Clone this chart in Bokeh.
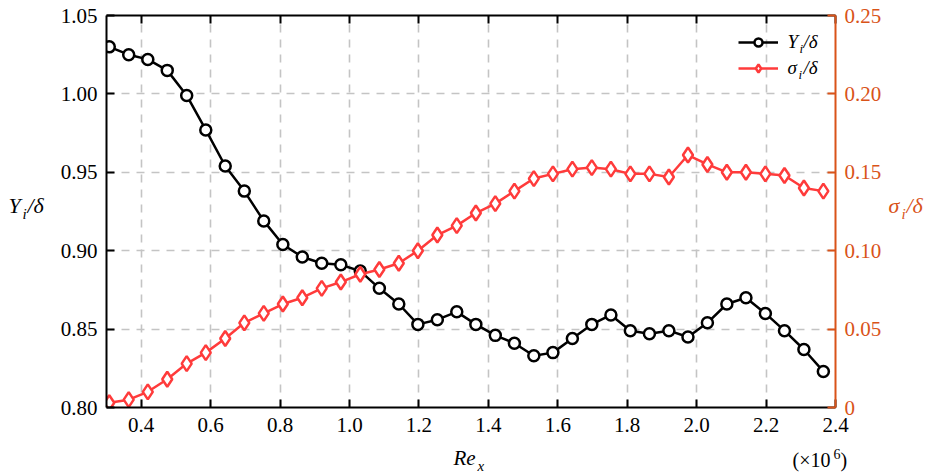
from bokeh.plotting import figure
from bokeh.layouts import column
from bokeh.models import (Range1d, LinearAxis, FixedTicker, CustomJSTickFormatter,
                          Label, Legend, LegendItem, Grid)
from bokeh.core.properties import value
from bokeh.embed import file_html
from bokeh.resources import INLINE

# ---------------- data ----------------
re_x = [0.308, 0.364, 0.419, 0.475, 0.531, 0.586, 0.642, 0.697, 0.753, 0.808,
        0.864, 0.920, 0.975, 1.031, 1.086, 1.142, 1.197, 1.253, 1.309, 1.364,
        1.420, 1.475, 1.531, 1.586, 1.642, 1.698, 1.753, 1.809, 1.864, 1.920,
        1.975, 2.031, 2.087, 2.142, 2.198, 2.253, 2.309, 2.365]
y_over_delta = [1.030, 1.025, 1.022, 1.015, 0.999, 0.977, 0.954, 0.938, 0.919, 0.904,
                0.896, 0.892, 0.891, 0.887, 0.876, 0.866, 0.853, 0.856, 0.861, 0.853,
                0.846, 0.841, 0.833, 0.835, 0.844, 0.853, 0.859, 0.849, 0.847, 0.849,
                0.845, 0.854, 0.866, 0.870, 0.860, 0.849, 0.837, 0.823]
sigma_over_delta = [0.003, 0.005, 0.010, 0.018, 0.028, 0.035, 0.044, 0.054, 0.060, 0.066,
                    0.070, 0.076, 0.080, 0.085, 0.088, 0.092, 0.100, 0.110, 0.116, 0.124,
                    0.130, 0.138, 0.146, 0.149, 0.152, 0.153, 0.152, 0.149, 0.149, 0.147,
                    0.161, 0.155, 0.150, 0.150, 0.149, 0.148, 0.140, 0.138]
x_ticks = [0.4, 0.6, 0.8, 1.0, 1.2, 1.4, 1.6, 1.8, 2.0, 2.2, 2.4]
y_ticks = [0.80, 0.85, 0.90, 0.95, 1.00, 1.05]
sigma_ticks = [0.0, 0.05, 0.10, 0.15, 0.20, 0.25]

# ---------------- layout ----------------
FONT = "Liberation Serif"
ORANGE = "#D95319"
RED = "#ff3b3b"
W, H = 936, 474
L, T, FW, FH = 106, 15, 729, 392
H_MAIN = 446          # main figure height; the strip below holds the x-axis title
XR = (0.3, 2.4)
YR = (0.80, 1.05)
BASE_SHIFT = 0.36     # rendered baseline sits this many em below the anchor; compensate

p = figure(frame_width=FW, frame_height=FH, min_border_left=L, min_border_right=W - L - FW,
           min_border_top=T, min_border_bottom=H_MAIN - T - FH,
           x_range=Range1d(*XR), y_range=Range1d(*YR),
           x_axis_type=None, y_axis_type=None,
           output_backend="svg", toolbar_location=None)
p.extra_y_ranges = {"right": Range1d(0, 0.25)}
p.outline_line_color = None
p.background_fill_color = "white"
p.border_fill_color = "white"


def style_axis(ax, color="black"):
    ax.axis_line_color = color
    ax.axis_line_width = 2
    ax.major_tick_line_color = color
    ax.major_tick_line_width = 2
    ax.major_tick_in = 8
    ax.major_tick_out = 0
    ax.minor_tick_line_color = None
    ax.major_label_text_font = FONT
    ax.major_label_text_font_size = "21px"
    ax.major_label_text_color = color


bottom = LinearAxis(ticker=FixedTicker(ticks=x_ticks),
                    formatter=CustomJSTickFormatter(code="return tick.toFixed(1)"))
style_axis(bottom)
bottom.major_label_standoff = 10
p.add_layout(bottom, "below")

top = LinearAxis(ticker=FixedTicker(ticks=x_ticks),
                 formatter=CustomJSTickFormatter(code="return ''"))
style_axis(top)
top.major_label_text_font_size = "1px"
top.major_label_standoff = 0
p.add_layout(top, "above")

left = LinearAxis(ticker=FixedTicker(ticks=y_ticks),
                  formatter=CustomJSTickFormatter(code="return tick.toFixed(2)"))
style_axis(left)
left.major_label_standoff = 9
p.add_layout(left, "left")

right = LinearAxis(y_range_name="right", ticker=FixedTicker(ticks=sigma_ticks),
                   formatter=CustomJSTickFormatter(code="return tick == 0 ? '0' : tick.toFixed(2)"))
style_axis(right, ORANGE)
right.major_label_standoff = 9
p.add_layout(right, "right")

for dim, tk in ((0, bottom.ticker), (1, left.ticker)):
    g = Grid(dimension=dim, ticker=tk, grid_line_color="#c4c4c4", grid_line_width=1.6,
             grid_line_dash="8 7")
    p.add_layout(g)

# ---------------- series ----------------
l1 = p.line(re_x, y_over_delta, line_color="black", line_width=2.5)
c1 = p.scatter(re_x, y_over_delta, marker="circle", size=11, line_color="black",
               line_width=2.5, fill_color="white")
l2 = p.line(re_x, sigma_over_delta, y_range_name="right", line_color=RED, line_width=2.5)
d2 = p.scatter(re_x, sigma_over_delta, y_range_name="right", marker="diamond", size=15,
               line_color=RED, line_width=2.5, fill_color="white")

legend = Legend(items=[LegendItem(label=value(" "), renderers=[l1, c1]),
                       LegendItem(label=value(" "), renderers=[l2, d2])],
                location=(632, 329), padding=0, margin=0, spacing=6,
                glyph_width=40, glyph_height=20, label_width=0, label_standoff=0,
                border_line_alpha=0, background_fill_alpha=0)
p.add_layout(legend)


def lab(fig, text, px, py, size, color="black", italic=True, place="center"):
    fig.add_layout(Label(x=px, y=py - BASE_SHIFT * size, x_units="canvas", y_units="canvas",
                         text=text, text_font=FONT, text_font_size=f"{size}px",
                         text_font_style="italic" if italic else "normal",
                         text_color=color, text_baseline="alphabetic", text_align="left",
                         level="overlay"), place)


# axis titles beside the frame (side panels are not clipped to the frame)
lab(p, "Y", 8, 213, 22, place="left")
lab(p, "i", 22, 219, 15, place="left")
lab(p, "/δ", 27, 213, 22, place="left")
lab(p, "σ", 888, 213, 22, ORANGE, place="right")
lab(p, "i", 901, 219, 15, ORANGE, place="right")
lab(p, "/δ", 906, 213, 22, ORANGE, place="right")
# legend texts
lab(p, "Y", 787, 48, 19)
lab(p, "i", 799, 53, 13)
lab(p, "/δ", 803, 48, 19)
lab(p, "σ", 787, 74, 19)
lab(p, "i", 798, 79, 13)
lab(p, "/δ", 803, 74, 19)

# ---------------- strip below: x-axis title and multiplier ----------------
HS = H - H_MAIN
q = figure(frame_width=W, frame_height=HS, min_border=0,
           x_range=Range1d(0, W), y_range=Range1d(HS, 0),
           x_axis_type=None, y_axis_type=None,
           output_backend="svg", toolbar_location=None)
q.outline_line_color = None
q.background_fill_color = "white"
q.border_fill_color = "white"

lab(q, "Re", 453, 465 - H_MAIN, 21)
lab(q, "x", 477, 471 - H_MAIN, 15)
lab(q, "(×10", 792, 467 - H_MAIN, 20, italic=False)
lab(q, "6", 833, 459 - H_MAIN, 14, italic=False)
lab(q, ")", 840, 467 - H_MAIN, 20, italic=False)

layout = column(p, q, spacing=0)
open("out.html", "w").write(file_html(layout, INLINE))
